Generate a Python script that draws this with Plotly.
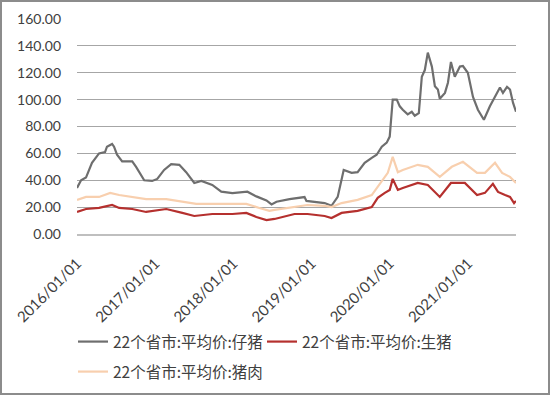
import plotly.graph_objects as go

# ---- data ----
piglet_dates = ["2016-01-01","2016-01-20","2016-02-12","2016-03-11","2016-04-13","2016-05-11","2016-05-20",
    "2016-06-13","2016-06-22","2016-07-06","2016-07-30","2016-09-15","2016-10-03","2016-11-10","2016-12-17",
    "2017-01-10","2017-02-11","2017-03-16","2017-04-23","2017-05-25","2017-07-02","2017-08-04","2017-09-24",
    "2017-11-05","2017-12-27","2018-03-07","2018-04-18","2018-06-04","2018-06-28","2018-07-21","2018-09-20",
    "2018-11-20","2018-11-29","2018-12-08","2019-01-15","2019-03-03","2019-04-04","2019-05-03","2019-05-31",
    "2019-07-07","2019-08-04","2019-09-06","2019-10-09","2019-11-01","2019-11-25","2019-12-18","2020-01-01",
    "2020-01-10","2020-01-15","2020-02-03","2020-02-17","2020-03-02","2020-03-25","2020-04-13","2020-04-27",
    "2020-05-16","2020-05-30","2020-06-13","2020-06-27","2020-07-16","2020-07-30","2020-08-13","2020-08-22",
    "2020-09-15","2020-09-29","2020-10-13","2020-10-31","2020-11-24","2020-12-08","2020-12-31","2021-01-24",
    "2021-02-16","2021-03-16","2021-04-13","2021-05-07","2021-05-30","2021-06-13","2021-07-02","2021-07-16",
    "2021-07-30","2021-08-13"]
piglet_vals = [34.3,40,42,53,60,61,65,
    67,65,59,54,54,50,40,39.5,
    41,47.7,52,51.5,46,38,39.5,36.5,
    31.5,30.5,31.5,28,25,22,24,26,
    27,27.5,24.6,24,23,21,27.6,47.7,
    45.5,46,53,56.7,59,65,68,72.5,
    87,100,100,95,92.5,89,91,88,
    90,117,122,135,124.6,110,107.5,100.7,
    105,112.6,128,117,124.6,125,120,102,
    92.5,85,95,102,109,105,109.5,107.5,
    97.7,91]

hog_dates = ["2016-01-01","2016-02-12","2016-04-13","2016-06-13","2016-07-16","2016-09-15","2016-11-19",
    "2017-02-21","2017-05-07","2017-07-02","2017-09-24","2017-12-27","2018-03-02","2018-04-18","2018-06-04",
    "2018-07-12","2018-10-13","2018-12-13","2019-03-03","2019-04-04","2019-05-21","2019-08-04","2019-10-09",
    "2019-11-06","2019-12-09","2020-01-01","2020-01-15","2020-02-08","2020-03-02","2020-05-11","2020-06-27",
    "2020-08-22","2020-10-13","2020-12-17","2021-02-12","2021-03-21","2021-04-27","2021-05-21","2021-06-23",
    "2021-07-16","2021-08-04","2021-08-13"]
hog_vals = [16.4,18.6,19.4,21.6,19.4,18.6,16.4,
    18.6,15.7,13.4,14.9,14.9,15.7,12.7,10.4,
    11.2,14.9,14.9,13.4,11.9,15.7,17.2,20,
    26.9,30.6,32.8,41,32.8,34.3,38,36.5,
    27.6,38,38,29,30.6,37.3,31.3,29,
    27.6,23,24.6]

pork_dates = ["2016-01-01","2016-02-12","2016-04-13","2016-06-04","2016-07-16","2016-09-15","2016-11-19",
    "2017-02-21","2017-05-07","2017-07-11","2017-10-13","2018-03-02","2018-05-02","2018-06-18","2018-07-12",
    "2018-10-13","2018-12-13","2019-03-03","2019-04-04","2019-05-21","2019-08-04","2019-10-09","2019-11-25",
    "2019-12-23","2020-01-15","2020-02-08","2020-03-02","2020-05-11","2020-06-27","2020-08-22","2020-10-17",
    "2020-12-08","2021-02-12","2021-03-21","2021-05-07","2021-06-09","2021-07-16","2021-08-13"]
pork_vals = [25.4,27.6,27.6,30.6,29,27.6,26,
    26,24,22.4,22.4,22.4,19.4,17.2,17.9,
    20,21.6,21,20,23,25.4,29,38.8,
    45.5,57.4,46,47.7,51.5,50,42.5,50,
    53.7,45.5,45.5,53,45.5,42.5,38]

names = ["22个省市:平均价:仔猪", "22个省市:平均价:生猪", "22个省市:平均价:猪肉"]
colors = ["#6E6E6E", "#B5302E", "#F8CFAE"]
year_ticks = ["2016-01-01","2017-01-01","2018-01-01","2019-01-01","2020-01-01","2021-01-01"]
year_labels = ["2016/01/01","2017/01/01","2018/01/01","2019/01/01","2020/01/01","2021/01/01"]

W, H = 550, 395
L, R, T, B = 77, 34, 19, 161
pw, ph = W - L - R, H - T - B

fig = go.Figure()
legends = ["legend", "legend", "legend2"]
for d, v, n, c, lg in [(piglet_dates, piglet_vals, names[0], colors[0], legends[0]),
                       (hog_dates, hog_vals, names[1], colors[1], legends[1]),
                       (pork_dates, pork_vals, names[2], colors[2], legends[2])]:
    fig.add_trace(go.Scatter(x=d, y=v, name=n, mode="lines", legend=lg,
                             line=dict(color=c, width=2.2)))

leg_font = dict(family="Noto Sans CJK SC", size=15.5, color="#404040")
fig.update_layout(
    width=W, height=H,
    margin=dict(l=L, r=R, t=T, b=B, autoexpand=False),
    paper_bgcolor="white", plot_bgcolor="white",
    font=dict(family="Lato", size=14, color="#404040"),
    xaxis=dict(type="date", range=["2016-01-01", "2021-08-13"],
               tickvals=year_ticks, ticktext=year_labels, tickangle=-45,
               showgrid=False, showline=True, linecolor="#BFBFBF", linewidth=1.5,
               ticks="", ticklabelstandoff=13, automargin=False,
               tickfont=dict(family="Lato", size=15, color="#404040")),
    yaxis=dict(range=[0, 160], dtick=20, tickformat=".2f",
               showgrid=True, gridcolor="#A6A6A6", gridwidth=1, zeroline=False,
               ticks="", ticklabelstandoff=15, automargin=False,
               tickfont=dict(family="Lato", size=14, color="#404040")),
    legend=dict(orientation="h", x=(73 - L) / pw, xanchor="left",
                y=(T + ph - 342) / ph, yanchor="middle", entrywidth=144,
                font=leg_font, bgcolor="rgba(0,0,0,0)", itemwidth=30),
    legend2=dict(orientation="h", x=(73 - L) / pw, xanchor="left",
                 y=(T + ph - 372) / ph, yanchor="middle",
                 font=leg_font, bgcolor="rgba(0,0,0,0)", itemwidth=30),
    shapes=[dict(type="rect", xref="paper", yref="paper",
                 x0=(1 - L) / pw, x1=(W - 1 - L) / pw,
                 y0=(T + ph - (H - 1)) / ph, y1=(T + ph - 1) / ph,
                 line=dict(color="#8C8C8C", width=2), fillcolor="rgba(0,0,0,0)", layer="below")],
)

fig.write_html("out.html", config={"displayModeBar": False},
               post_script="document.body.style.margin='0px';document.body.style.overflow='hidden';")
